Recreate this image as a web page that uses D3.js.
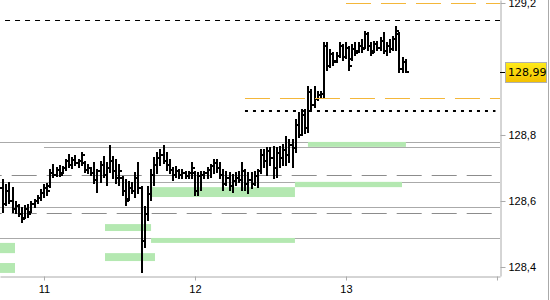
<!DOCTYPE html>
<html>
<head>
<meta charset="utf-8">
<script src="https://cdn.jsdelivr.net/npm/d3@7"></script>
<style>
  body { margin: 0; background: #fff; }
  svg { display: block; font-family: "DejaVu Sans", sans-serif; }
</style>
</head>
<body>
<div id="chart"></div>
<script>
// 30 minute bars
var opens = [128.640,128.590,128.630,128.600,128.575,128.585,128.560,128.548,128.575,128.567,
  128.590,128.600,128.610,128.625,128.640,128.645,128.685,128.680,128.695,128.685,
  128.700,128.720,128.710,128.725,128.715,128.720,128.715,128.695,128.700,128.685,
  128.665,128.690,128.710,128.680,128.700,128.720,128.690,128.670,128.670,128.630,
  128.605,128.640,128.630,128.670,128.640,128.480,128.560,128.620,128.680,128.710,
  128.730,128.740,128.720,128.710,128.695,128.680,128.690,128.680,128.685,128.675,
  128.685,128.685,128.630,128.675,128.680,128.685,128.695,128.705,128.715,128.700,
  128.680,128.650,128.670,128.645,128.660,128.670,128.665,128.690,128.650,128.665,
  128.650,128.675,128.690,128.740,128.720,128.750,128.730,128.700,128.745,128.730,
  128.755,128.740,128.770,128.760,128.830,128.800,128.860,128.820,128.930,128.890,
  128.910,128.920,128.925,129.070,129.010,129.045,129.025,129.040,129.070,129.035,
  129.065,129.030,129.060,129.055,129.070,129.065,129.105,129.070,129.055,129.075,
  129.065,129.085,129.055,129.070,129.060,129.090,129.105,129.000,129.020];
var highs = [128.664,128.648,128.654,128.639,128.597,128.588,128.579,128.585,128.588,128.597,
  128.603,128.615,128.633,128.648,128.651,128.694,128.709,128.700,128.706,128.703,
  128.724,128.739,128.730,128.736,128.724,128.745,128.718,128.709,128.700,128.715,
  128.694,128.718,128.733,128.715,128.767,128.733,128.724,128.709,128.673,128.664,
  128.657,128.654,128.685,128.715,128.642,128.582,128.642,128.694,128.730,128.745,
  128.754,128.767,128.745,128.724,128.700,128.703,128.694,128.694,128.688,128.688,
  128.715,128.688,128.685,128.688,128.688,128.700,128.709,128.724,128.724,128.715,
  128.694,128.688,128.685,128.679,128.685,128.688,128.715,128.694,128.685,128.685,
  128.688,128.694,128.754,128.754,128.761,128.761,128.764,128.761,128.764,128.770,
  128.794,128.785,128.785,128.845,128.867,128.876,128.876,128.945,128.936,128.945,
  128.930,128.930,129.079,129.079,129.058,129.048,129.048,129.079,129.073,129.079,
  129.067,129.073,129.079,129.079,129.088,129.112,129.109,129.079,129.082,129.082,
  129.094,129.109,129.079,129.088,129.097,129.127,129.109,129.033,129.027];
var lows = [128.567,128.588,128.594,128.567,128.564,128.554,128.536,128.548,128.551,128.567,
  128.582,128.594,128.603,128.612,128.618,128.642,128.673,128.676,128.676,128.685,
  128.694,128.703,128.700,128.709,128.703,128.709,128.688,128.685,128.679,128.654,
  128.627,128.657,128.673,128.648,128.688,128.670,128.654,128.648,128.618,128.588,
  128.603,128.624,128.612,128.624,128.385,128.461,128.542,128.603,128.648,128.685,
  128.709,128.715,128.694,128.685,128.664,128.673,128.670,128.670,128.670,128.670,
  128.670,128.618,128.618,128.633,128.670,128.670,128.673,128.685,128.688,128.670,
  128.633,128.648,128.633,128.627,128.648,128.657,128.633,128.633,128.624,128.639,
  128.648,128.642,128.685,128.703,128.679,128.709,128.670,128.673,128.703,128.709,
  128.709,128.718,128.703,128.748,128.794,128.800,128.806,128.809,128.876,128.885,
  128.906,128.912,128.912,128.997,129.006,129.012,129.021,129.036,129.027,129.033,
  128.997,129.027,129.042,129.051,129.051,129.064,129.058,129.042,129.051,129.058,
  129.058,129.048,129.042,129.051,129.058,129.058,128.991,128.991,128.991];
var closes = [128.590,128.630,128.600,128.575,128.585,128.560,128.545,128.575,128.560,128.590,
  128.600,128.610,128.625,128.640,128.630,128.685,128.680,128.695,128.680,128.700,
  128.720,128.710,128.725,128.715,128.720,128.740,128.695,128.700,128.685,128.665,
  128.690,128.710,128.680,128.700,128.720,128.690,128.670,128.690,128.630,128.600,
  128.640,128.630,128.670,128.640,128.480,128.560,128.620,128.680,128.710,128.730,
  128.740,128.720,128.710,128.695,128.680,128.690,128.680,128.685,128.675,128.685,
  128.700,128.630,128.675,128.680,128.685,128.695,128.705,128.715,128.700,128.680,
  128.650,128.670,128.645,128.660,128.670,128.665,128.690,128.650,128.665,128.650,
  128.675,128.690,128.740,128.720,128.750,128.730,128.700,128.745,128.730,128.755,
  128.740,128.770,128.760,128.830,128.800,128.860,128.820,128.930,128.890,128.910,
  128.920,128.925,129.070,129.010,129.045,129.020,129.040,129.070,129.035,129.065,
  129.010,129.060,129.050,129.070,129.060,129.105,129.070,129.050,129.075,129.065,
  129.085,129.055,129.070,129.060,129.090,129.115,129.000,129.020,128.990];
var firstBar = 10 + 35 / 48, barStep = 1 / 48;
var lastPrice = 128.99;

// horizontal levels (price, from day, to day, kind)
var levelPrices = [129.199, 129.150, 128.912, 128.873, 128.780, 128.764, 128.679, 128.658, 128.581, 128.563, 128.489];
var levelFrom   = [13.0, 10.742, 12.331, 12.331, 10.7, 11.0, 10.7, 10.7, 10.7, 10.7, 10.7];
var levelTo     = [14.02, 14.02, 14.02, 13.99, 14.02, 14.02, 14.02, 14.02, 14.02, 14.02, 14.02];
var levelKinds  = ["orange", "black", "orange", "dotted", "gray", "gray", "grayDash", "gray", "gray", "grayDash", "gray"];

// green zones
var zoneFrom   = [10.7, 10.7, 11.404, 11.404, 11.709, 11.715, 12.662, 12.748];
var zoneTo     = [10.808, 10.808, 11.709, 11.735, 12.662, 12.662, 13.371, 13.397];
var zoneTop    = [128.473, 128.412, 128.530, 128.442, 128.488, 128.642, 128.658, 128.779];
var zoneBottom = [128.442, 128.382, 128.509, 128.418, 128.473, 128.612, 128.642, 128.764];

var xTicks = [11, 12, 13, 14];
// 129,0 sits under the last-price box, so it is not labelled
var yTicks = [128.4, 128.6, 128.8, 129.2];

var W = 550, H = 300, plotW = 500, plotH = 276;

var svg = d3.select("#chart").append("svg")
    .attr("width", W).attr("height", H);

var x = d3.scaleLinear().domain([10.7086, 14.02]).range([0, plotW]);
var y = d3.scaleLinear().domain([128.3727, 129.2091]).range([plotH, 0]);

svg.append("defs").append("clipPath").attr("id", "plot")
  .append("rect").attr("width", plotW).attr("height", plotH);

var styles = {
  orange:   { stroke: "#f4b73a", width: 1, dash: "25,10", offset: 0 },
  black:    { stroke: "#000", width: 1, dash: "5,5", offset: 0 },
  dotted:   { stroke: "#000", width: 2, dash: "3,5", offset: 0 },
  gray:     { stroke: "#aaa", width: 1, dash: null, offset: 0 },
  grayDash: { stroke: "#8c8c8c", width: 1, dash: "25,10", offset: 22 }
};

var plot = svg.append("g").attr("clip-path", "url(#plot)");

function drawLevels(kinds) {
  levelPrices.forEach(function(p, i) {
    if (kinds.indexOf(levelKinds[i]) < 0) return;
    var s = styles[levelKinds[i]];
    var yy = Math.round(y(p)) + (s.width % 2 ? 0.5 : 0);
    plot.append("line")
      .attr("x1", x(levelFrom[i])).attr("x2", x(levelTo[i]))
      .attr("y1", yy).attr("y2", yy)
      .attr("stroke", s.stroke)
      .attr("stroke-width", s.width)
      .attr("stroke-dasharray", s.dash)
      .attr("stroke-dashoffset", s.offset);
  });
}

drawLevels(["gray", "grayDash"]);

// zones
plot.selectAll(".zone")
  .data(zoneFrom)
  .enter().append("rect")
    .attr("class", "zone")
    .attr("x", function(d, i) { return x(zoneFrom[i]); })
    .attr("y", function(d, i) { return y(zoneTop[i]); })
    .attr("width", function(d, i) { return x(zoneTo[i]) - x(zoneFrom[i]); })
    .attr("height", function(d, i) { return y(zoneBottom[i]) - y(zoneTop[i]); })
    .style("fill", "#b4e8b1");

// OHLC bars
var bars = plot.append("g").attr("stroke", "#000").attr("stroke-width", 2).attr("fill", "none");
opens.forEach(function(o, i) {
  var bx = Math.round(x(firstBar + i * barStep));
  var yo = Math.round(y(o)), yc = Math.round(y(closes[i]));
  var yh = Math.round(y(highs[i])) - 1, yl = Math.round(y(lows[i])) + 1;
  bars.append("path")
    .attr("d", "M" + bx + "," + yh + "V" + yl +
               "M" + (bx - 3) + "," + yo + "H" + bx +
               "M" + bx + "," + yc + "H" + (bx + 3));
});

drawLevels(["orange", "black", "dotted"]);

// bottom axis
var xAxis = svg.append("g")
  .attr("transform", "translate(0," + (plotH + 0.5) + ")")
  .call(d3.axisBottom(x).tickValues(xTicks).tickSize(4).tickSizeOuter(0)
    .tickFormat(function(d) { return d < 14 ? d : ""; }));
xAxis.select(".domain").attr("stroke", "#aaa");
xAxis.selectAll(".tick line").attr("stroke", "#aaa");
xAxis.selectAll(".tick text").attr("fill", "#000").style("font-size", "11px").attr("dy", "0.85em");

// right axis
var yAxis = svg.append("g")
  .attr("transform", "translate(" + (plotW + 0.5) + ",0)")
  .call(d3.axisRight(y).tickValues(yTicks).tickSize(5).tickSizeOuter(0).tickPadding(3)
    .tickFormat(function(d) { return d3.format(".1f")(d).replace(".", ","); }));
yAxis.select(".domain").attr("stroke", "#aaa");
yAxis.selectAll(".tick line").attr("stroke", "#aaa");
yAxis.selectAll(".tick text").attr("fill", "#000").style("font-size", "11px");

// right frame
svg.append("line").attr("x1", W - 1.5).attr("x2", W - 1.5).attr("y1", 0).attr("y2", H)
  .attr("stroke", "#aaa");

// last price marker
var grad = svg.select("defs").append("linearGradient").attr("id", "lastGrad")
  .attr("x1", 0).attr("y1", 0).attr("x2", 0).attr("y2", 1);
grad.append("stop").attr("offset", "0%").attr("stop-color", "#ffec1a");
grad.append("stop").attr("offset", "100%").attr("stop-color", "#f3c000");

var ly = Math.round(y(lastPrice));
svg.append("line").attr("x1", plotW).attr("x2", plotW + 5)
  .attr("y1", ly + 0.5).attr("y2", ly + 0.5).attr("stroke", "#000");
svg.append("rect")
  .attr("x", plotW + 5.5).attr("y", ly - 9.5).attr("width", 41).attr("height", 20)
  .attr("fill", "url(#lastGrad)").attr("stroke", "#b0b0b0");
svg.append("text")
  .attr("x", plotW + 8).attr("y", ly + 0.5).attr("dy", "0.35em")
  .style("font-size", "11px").attr("fill", "#000")
  .text(d3.format(".2f")(lastPrice).replace(".", ","));
</script>
</body>
</html>
